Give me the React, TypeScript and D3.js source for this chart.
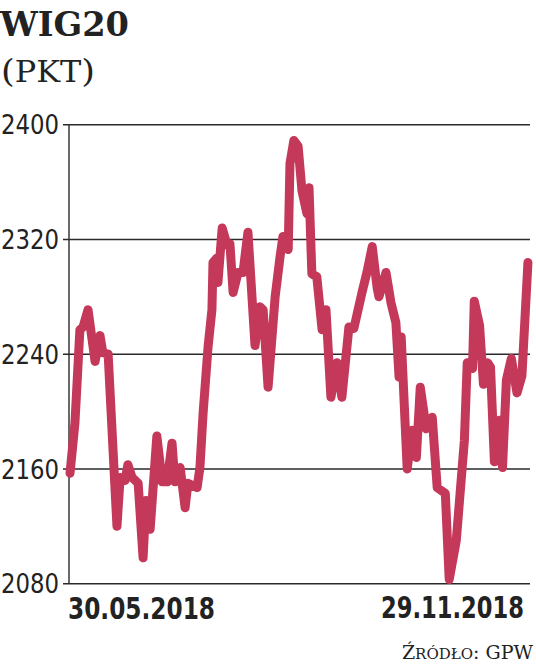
import React from "react";
import * as d3 from "d3";

// trading-day index (0..130) and WIG20 close values
const days = [
  0, 1.4, 2.8, 3.7, 5.1, 7.1, 8.5, 9.3, 10.8, 13.3, 14.2, 15.6, 16.4, 17.6, 19.3, 20.7,
  21.5, 22.7, 24.6, 26.1, 27.5, 28.9, 29.7, 31.2, 32.6, 33.4, 36.0, 36.8, 37.7, 39.1,
  40.2, 40.5, 41.6, 41.9, 43.1, 44.5, 45.3, 46.2, 47.6, 49.0, 50.4, 52.4, 53.8, 54.7,
  56.1, 58.1, 59.5, 60.3, 61.8, 62.3, 63.4, 64.6, 65.7, 67.1, 67.7, 68.5, 69.9, 71.4,
  72.5, 73.9, 75.6, 77.0, 79.0, 80.4, 82.7, 84.1, 85.6, 87.0, 87.5, 89.5, 90.9, 92.3,
  93.2, 93.8, 95.5, 96.9, 98.1, 99.2, 100.9, 102.6, 104.0, 106.3, 107.4, 109.4, 111.7,
  112.5, 114.0, 114.5, 116.0, 117.1, 118.3, 119.1, 120.2, 121.6, 122.5, 123.6, 125.0,
  126.6, 128.0, 129.7,
];
const values = [
  2157, 2192, 2257, 2259, 2271, 2235, 2253, 2241, 2240, 2120, 2154, 2152, 2163, 2154,
  2150, 2098, 2138, 2118, 2183, 2151, 2151, 2178, 2151, 2161, 2133, 2150, 2147, 2161,
  2199, 2245, 2271, 2304, 2307, 2290, 2328, 2316, 2317, 2283, 2297, 2297, 2325, 2246,
  2273, 2271, 2217, 2280, 2308, 2322, 2313, 2373, 2389, 2385, 2354, 2338, 2356, 2296,
  2294, 2257, 2271, 2210, 2234, 2210, 2259, 2258, 2283, 2297, 2315, 2286, 2280, 2297,
  2276, 2262, 2224, 2252, 2160, 2187, 2168, 2217, 2188, 2196, 2147, 2143, 2083, 2110,
  2180, 2234, 2230, 2277, 2260, 2219, 2234, 2231, 2165, 2194, 2161, 2222, 2237, 2213,
  2225, 2304,
];
const yTicks = [2080, 2160, 2240, 2320, 2400];
const dateLabels = ["30.05.2018", "29.11.2018"];
const title = "WIG20";
const unit = "PKT";

export default function App() {
  const W = 536, H = 667;
  const left = 69, right = 530, top = 124.7, bottom = 583.7;
  const x = d3.scaleLinear().domain([0, 130]).range([left + 1, 529]);
  const y = d3.scaleLinear().domain([2080, 2400]).range([bottom, top]);
  const pts = days.map((d, i) => [d, values[i]] as [number, number]);
  const line = d3.line<[number, number]>().x(d => x(d[0])).y(d => y(d[1]))(pts) || "";
  const serif = "'DejaVu Serif', serif";
  const cond = "'DejaVu Sans Condensed', 'DejaVu Sans', sans-serif";
  const sx = 0.85;
  return (
    <svg width={W} height={H} style={{ position: "absolute", left: 0, top: 0, background: "#fff" }}>
      <text x={0} y={36} fontFamily={serif} fontWeight="bold" fontSize={34} fill="#222" textLength={129} lengthAdjust="spacingAndGlyphs">{title}</text>
      <text x={1} y={82} fontFamily={serif} fontSize={29} fill="#222" textLength={94} lengthAdjust="spacingAndGlyphs">
        <tspan fontSize={32}>(</tspan>{unit}<tspan fontSize={32}>)</tspan>
      </text>
      {yTicks.map(t => (
        <g key={t}>
          <line x1={left - 6} x2={right} y1={y(t)} y2={y(t)} stroke="#2a2a2a" strokeWidth={1.4} />
          <text x={59} y={y(t)} dy="0.36em" textAnchor="end" fontFamily={cond} fontSize={27} fill="#222" textLength={58} lengthAdjust="spacingAndGlyphs">{t}</text>
        </g>
      ))}
      <line x1={left} x2={left} y1={top} y2={bottom} stroke="#2a2a2a" strokeWidth={1.4} />
      <path d={line} fill="none" stroke="#c4385a" strokeWidth={9} strokeLinejoin="round" strokeLinecap="round" />
      <g transform={`translate(68,619) scale(${sx},1)`}>
        <text x={0} y={0} fontFamily={cond} fontWeight="bold" fontSize={30} fill="#222" textLength={147 / sx} lengthAdjust="spacingAndGlyphs">{dateLabels[0]}</text>
      </g>
      <g transform={`translate(381,618) scale(${sx},1)`}>
        <text x={0} y={0} fontFamily={cond} fontWeight="bold" fontSize={30} fill="#222" textLength={143 / sx} lengthAdjust="spacingAndGlyphs">{dateLabels[1]}</text>
      </g>
      <text x={533} y={659} textAnchor="end" fontFamily={serif} fontSize={19} fill="#222">
        Ź<tspan fontSize={15}>RÓDŁO</tspan>: GPW
      </text>
    </svg>
  );
}
